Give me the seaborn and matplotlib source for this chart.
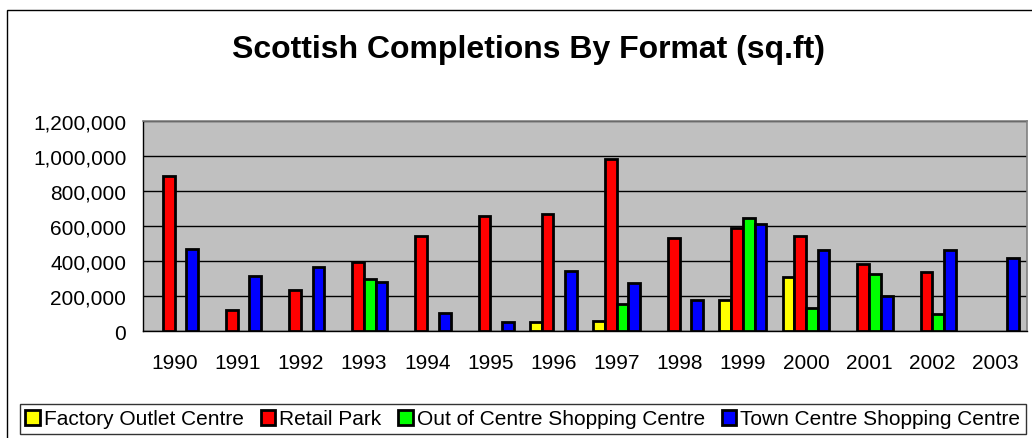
import pandas as pd
import numpy as np
import matplotlib
matplotlib.use("Agg")
import matplotlib.pyplot as plt
import matplotlib.ticker as mticker
from matplotlib.patches import Rectangle
import seaborn as sns

# Données (sq.ft)
years = ["1990", "1991", "1992", "1993", "1994", "1995", "1996",
         "1997", "1998", "1999", "2000", "2001", "2002", "2003"]
formats = ["Factory Outlet Centre", "Retail Park",
           "Out of Centre Shopping Centre", "Town Centre Shopping Centre"]
factory_outlet = [None, None, None, None, None, None, 50000,
                  60000, None, 175000, 306000, None, None, None]
retail_park = [887000, 122000, 236000, 396000, 543000, 659000, 670000,
               985000, 529000, 590000, 541000, 385000, 337000, None]
out_of_centre = [None, None, None, 297000, None, None, None,
                 152000, None, 643000, 133000, 327000, 99000, None]
town_centre = [470000, 312000, 363000, 280000, 101000, 51000, 343000,
               272000, 177000, 611000, 461000, 200000, 463000, 419000]
colors = ["#FFFF00", "#FF0000", "#00FF00", "#0000FF"]

rows = []
for fmt, vals in zip(formats, [factory_outlet, retail_park, out_of_centre, town_centre]):
    for y, v in zip(years, vals):
        rows.append({"Year": y, "Format": fmt, "Area": v})
df = pd.DataFrame(rows).dropna()

sns.set_style("white")
plt.rcParams["font.family"] = ["Liberation Sans", "DejaVu Sans"]
plt.rcParams["text.color"] = "black"
plt.rcParams["xtick.color"] = "black"
plt.rcParams["ytick.color"] = "black"

fig = plt.figure(figsize=(10.32, 4.39), dpi=100)
ax = fig.add_axes([143 / 1032, 1 - 332 / 439, (1027 - 143) / 1032, (332 - 122) / 439])

sns.barplot(data=df, x="Year", y="Area", hue="Format", order=years, hue_order=formats,
            palette=dict(zip(formats, colors)), width=0.74, dodge=True, errorbar=None,
            edgecolor="black", linewidth=2.0, saturation=1, ax=ax, legend=True, zorder=3)

ax.set_facecolor("#C0C0C0")
ax.set_xlim(-0.5, len(years) - 0.5)
ax.set_ylim(0, 1200000)
ax.yaxis.set_major_locator(mticker.MultipleLocator(200000))
ax.yaxis.set_major_formatter(mticker.StrMethodFormatter("{x:,.0f}"))
ax.grid(axis="y", color="black", linewidth=1.0, zorder=0)
ax.set_axisbelow(True)
ax.set_xlabel("")
ax.set_ylabel("")

ax.set_xticks(np.arange(-0.5, len(years)), minor=True)
ax.tick_params(axis="x", which="major", length=0, pad=16, labelsize=15)
ax.tick_params(axis="x", which="minor", length=5, width=1, color="black", direction="out")
ax.tick_params(axis="y", length=5, width=1, color="black", direction="out", pad=7, labelsize=15)

for side in ["top", "right"]:
    ax.spines[side].set_color("#808080")
    ax.spines[side].set_linewidth(1.2)
for side in ["left", "bottom"]:
    ax.spines[side].set_color("black")
    ax.spines[side].set_linewidth(1.0)

# Légende en bas dans un cadre
handles, labels = ax.get_legend_handles_labels()
ax.get_legend().remove()
leg = fig.legend(handles, labels, loc="center left", bbox_to_anchor=(20 / 1032, 1 - 420 / 439),
                 ncol=4, fontsize=15, frameon=True, fancybox=False, borderaxespad=0,
                 handlelength=0.7, handleheight=0.7, handletextpad=0.2, columnspacing=0.8,
                 borderpad=0.25)
leg.get_frame().set_edgecolor("black")
leg.get_frame().set_linewidth(1.0)

fig.text(529 / 1032, 1 - 50 / 439, "Scottish Completions By Format (sq.ft)",
         ha="center", va="center", fontsize=23, fontweight="bold")

# Cadre extérieur du graphique
fig.patches.append(Rectangle((7 / 1032, -0.05), 1.1, 1 - 11 / 439 + 0.05, transform=fig.transFigure,
                             fill=False, edgecolor="black", linewidth=1.0))

fig.savefig("out.png", dpi=100)
